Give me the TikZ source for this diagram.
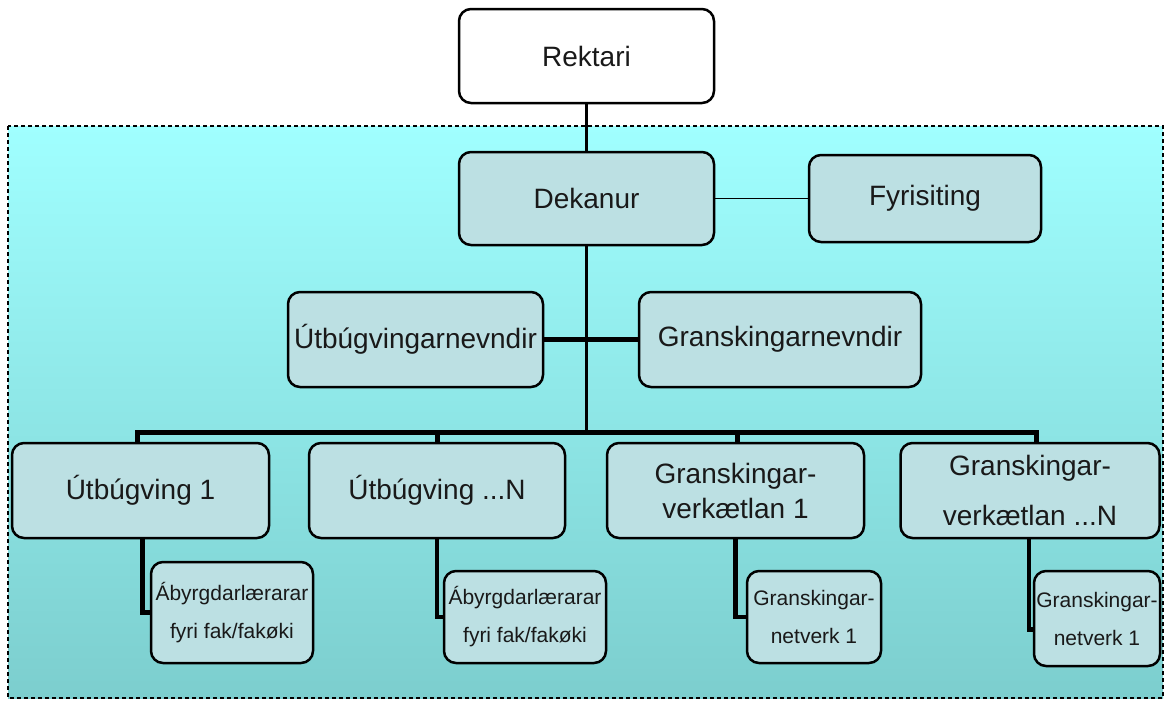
\documentclass[tikz,border=0pt]{standalone}
\usepackage{fontspec}
\setmainfont{Liberation Sans}
\definecolor{bgtop}{RGB}{160,255,255}
\definecolor{bgbot}{RGB}{124,206,206}
\definecolor{boxfill}{RGB}{188,224,227}
\begin{document}
\begin{tikzpicture}[x=1pt,y=-1pt,
  box/.style={draw=black, line width=2.5pt, rounded corners=12pt, fill=boxfill,
    inner sep=0pt, align=center, text=black!90, font=\fontsize{28}{34}\selectfont},
  smallbox/.style={box, font=\fontsize{21}{38}\selectfont},
  thinlink/.style={line width=1.5pt},
  midlink/.style={line width=3.5pt},
  thicklink/.style={line width=5pt, line join=miter},
  childlink/.style={line width=4.5pt, line join=miter},
  frame/.style={dash pattern=on 4pt off 3pt, line width=1.5pt}
]
\useasboundingbox (0,0) rectangle (1170,702);
% background region
\shade[top color=bgtop, bottom color=bgbot] (8,126) rectangle (1163,698);
\draw[frame] (8,126) rectangle (1163,698);

% nodes
\node[box, fill=white, minimum width=255pt, minimum height=94pt] (rek) at (586.5,56) {Rektari};
\node[box, minimum width=255pt, minimum height=93pt] (dek) at (586.5,198.5) {Dekanur};
\node[box, minimum width=232pt, minimum height=87pt] (fyr) at (925,198.5) {Fyrisiting};
\node[box, minimum width=255pt, minimum height=95pt] (utn) at (415.5,339.5) {Útbúgvingarnevndir};
\node[box, minimum width=282pt, minimum height=95pt] (grn) at (780,339.5) {Granskingarnevndir};

\coordinate (bus) at (586.5,432);

\node[box, minimum width=257pt, minimum height=95pt] (u1) at (140.5,490.5) {Útbúgving 1};
\node[box, minimum width=256pt, minimum height=95pt] (uN) at (437,490.5) {Útbúgving ...N};
\node[box, minimum width=257pt, minimum height=95pt, font=\fontsize{28}{35}\selectfont] (g1) at (735.5,490.5) {Granskingar-\\verkætlan 1};
\node[box, minimum width=259pt, minimum height=95pt, font=\fontsize{28}{50}\selectfont] (gN) at (1030,490.5) {Granskingar-\\verkætlan ...N};

\node[smallbox, minimum width=162pt, minimum height=101pt] (c1) at (232,612.5) {Ábyrgdarlærarar\\fyri fak/fakøki};
\node[smallbox, minimum width=162pt, minimum height=92pt] (c2) at (525,617) {Ábyrgdarlærarar\\fyri fak/fakøki};
\node[smallbox, minimum width=134pt, minimum height=92pt] (c3) at (814,617) {Granskingar-\\netverk 1};
\node[smallbox, minimum width=126pt, minimum height=95pt] (c4) at (1097,618.5) {Granskingar-\\netverk 1};

% connectors
\draw[midlink] (rek.south) -- (dek.north);
\draw[thinlink] (dek.east) -- (fyr.west);
\draw[midlink] (dek.south) -- (bus);
\draw[thicklink] (utn.east) -- (grn.west);
\draw[thicklink] ([xshift=-3pt]u1.north) |- (bus) -| ([xshift=6pt]gN.north);
\draw[thicklink] (uN.north) -- (uN.north |- bus);
\draw[thicklink] ([xshift=2pt]g1.north) -- ([xshift=2pt]g1.north |- bus);

\draw[childlink] ([xshift=2pt]u1.south) |- (c1.west);
\draw[childlink] (uN.south) |- (c2.west);
\draw[childlink] (g1.south) |- (c3.west);
\draw[childlink] ([xshift=-1pt]gN.south) |- ([yshift=-11pt]c4.west);
\end{tikzpicture}
\end{document}
